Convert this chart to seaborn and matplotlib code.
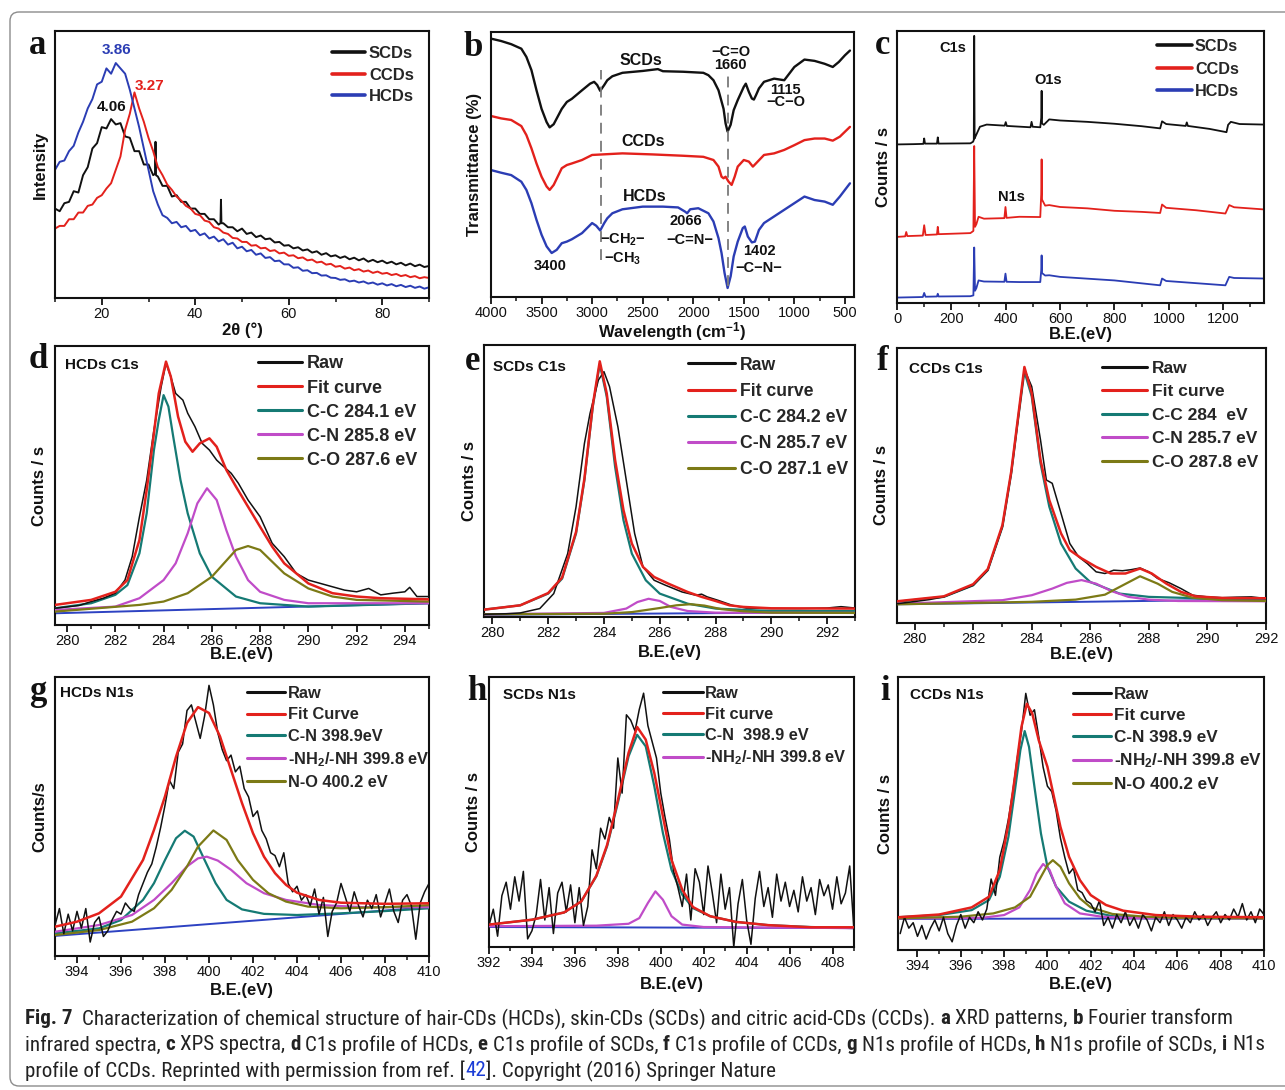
"""
Fig. 7 replica: XRD, FTIR, XPS survey and high-resolution C1s / N1s fits
for hair-, skin- and citric-acid carbon dots.
"""

import matplotlib
matplotlib.use('Agg')
import matplotlib.pyplot as plt
import matplotlib.font_manager as fm
import seaborn as sns
from matplotlib.ticker import MultipleLocator
from matplotlib.patches import FancyBboxPatch
from matplotlib.transforms import IdentityTransform
from matplotlib.font_manager import FontProperties

sns.set_theme(style='ticks')
plt.rcParams['font.family'] = ['Liberation Sans', 'DejaVu Sans']
plt.rcParams['mathtext.fontset'] = 'custom'
plt.rcParams['mathtext.rm'] = 'Liberation Sans:bold'
plt.rcParams['mathtext.it'] = 'Liberation Sans:bold'
plt.rcParams['mathtext.bf'] = 'Liberation Sans:bold'
plt.rcParams['mathtext.default'] = 'rm'

W, H = 1285, 1090

BLACK = '#111111'
RED = '#e3211c'
BLUE = '#2b3db4'
TEAL = '#157a74'
MAGENTA = '#c04cc8'
OLIVE = '#7c7a16'
BASE = '#2d42c2'

# ---------------- data (y in % of panel height, arbitrary units) ----------------
# a: XRD
XRD_X = [10, 11, 12, 13, 14, 15, 16, 17, 18, 19, 20, 21, 22, 23, 24, 25, 26, 27, 28, 29,
         30, 31, 32, 33, 34, 35, 36, 37, 38, 39, 40, 41, 42, 43, 44, 45, 46, 47, 48, 49,
         50, 51, 52, 53, 54, 55, 56, 57, 58, 59, 60, 61, 62, 63, 64, 65, 66, 67, 68, 69,
         70, 71, 72, 73, 74, 75, 76, 77, 78, 79, 80, 81, 82, 83, 84, 85, 86, 87, 88, 89, 90]
XRD_SCD_X = [10, 11, 12, 13, 14, 15, 16, 17, 18, 19, 20, 21, 22, 23, 24, 25, 26, 27, 28, 29,
             30, 31, 31.4, 31.5, 31.6, 32, 33, 34, 35, 36, 37, 38, 39, 40, 41, 42, 43, 44, 45,
             45.4, 45.5, 45.6, 46, 47, 48, 49, 50, 51, 52, 53, 54, 55, 56, 57, 58, 59, 60, 61,
             62, 63, 64, 65, 66, 67, 68, 69, 70, 71, 72, 73, 74, 75, 76, 77, 78, 79, 80, 81, 82,
             83, 84, 85, 86, 87, 88, 89, 90]
XRD_SCD = [33.5, 32.5, 35.5, 36, 40, 39.5, 46, 49, 56, 58, 64, 63.5, 67, 65, 65.5, 60.5, 60, 55,
           55, 50, 50, 46, 46.5, 58.5, 46, 45.5, 42, 42, 38, 38.5, 36, 36, 33.5, 33.5, 31.5, 31.5,
           29.5, 29.5, 27.5, 28, 36.8, 28, 28, 26.5, 26.5, 25, 26, 24, 24.5, 22.8, 23.4, 22, 22.3,
           20.8, 21, 19.6, 19.8, 18.6, 19, 17.8, 18.2, 17, 17.5, 16.2, 16.8, 15.6, 16, 15, 15.6,
           14.5, 15.1, 14.1, 14.8, 13.6, 14.3, 13.4, 14, 13, 13.6, 12.6, 13.2, 12.2, 12.9, 11.9,
           12.5, 11.6, 12]
XRD_CCD = [26, 27, 27, 29.5, 29.5, 32, 32, 34.5, 35, 37.5, 38.5, 41, 43, 48, 53, 63, 69, 77, 71,
           66, 60, 55, 49, 46, 42.5, 40.5, 38, 36.5, 34.5, 33.5, 31.5, 31, 29, 28.5, 26.5, 26, 24.5,
           24, 22.5, 22.3, 21, 21, 19.6, 19.8, 18.6, 18.8, 17.6, 17.9, 16.7, 17, 15.8, 16, 14.9,
           15.2, 14.1, 14.4, 13.3, 13.6, 12.5, 12.8, 11.7, 12, 11, 11.4, 10.4, 10.8, 9.9, 10.3, 9.4,
           9.9, 9.1, 9.4, 8.6, 9, 8.2, 8.6, 7.8, 8.2, 7.4, 7.8, 7.5]
XRD_HCD = [48, 51, 51.5, 55, 57, 62, 66, 71, 74.5, 80, 81, 86, 84, 88, 86, 84, 78, 71, 64, 56, 48,
           40, 35, 31, 30, 28, 28.5, 26.5, 27, 25, 25.5, 23.5, 24.2, 22.3, 23, 21.2, 22, 20, 20.7,
           18.6, 19.2, 17.5, 18, 16.2, 16.7, 15, 15.3, 13.8, 14, 12.6, 12.6, 11.3, 11.5, 10.2, 10.4,
           9.3, 9.4, 8.4, 8.5, 7.6, 7.5, 6.8, 7, 6.2, 6.5, 5.8, 6.2, 5.4, 5.8, 5, 5.5, 4.7, 5.2,
           4.4, 4.9, 4.1, 4.6, 3.8, 4.3, 3.5, 4]
XRD_NOTES = [("3.86", 23.2, 92.9, BLUE), ("3.27", 30.3, 79.4, RED), ("4.06", 22.1, 71.7, BLACK)]

# b: FTIR
FTIR_SCD_X = [4000, 3900, 3800, 3700, 3650, 3600, 3550, 3500, 3450, 3420, 3380, 3300, 3250, 3200,
              3100, 3020, 2980, 2950, 2920, 2880, 2850, 2800, 2700, 2500, 2350, 2300, 2100, 1900,
              1850, 1800, 1750, 1700, 1680, 1660, 1630, 1600, 1560, 1500, 1480, 1450, 1420, 1400,
              1380, 1350, 1300, 1200, 1100, 1050, 1000, 900, 800, 700, 620, 560, 500, 450]
FTIR_SCD = [97.5, 96.6, 95.4, 93.7, 90.6, 85.6, 78, 71, 66, 64, 65.2, 71, 73.6, 74.8, 78, 80.5,
            81.2, 80, 77.8, 80, 81.8, 83.3, 84.6, 85.3, 86, 85.2, 85, 84.6, 83.7, 81.8, 78, 71,
            65.5, 62.4, 65, 70.5, 74.3, 79.3, 80.5, 77.4, 74.9, 74.5, 76.1, 78.7, 81.2, 82.4, 81.8,
            84.3, 86.8, 89.6, 89.1, 88, 86.8, 88.7, 91.2, 93]
FTIR_CCD_X = [4000, 3900, 3800, 3700, 3650, 3600, 3550, 3500, 3450, 3420, 3380, 3300, 3250, 3200,
              3100, 3000, 2900, 2700, 2400, 2100, 1900, 1800, 1750, 1720, 1700, 1680, 1650, 1620,
              1590, 1560, 1500, 1450, 1410, 1380, 1300, 1200, 1100, 1000, 900, 800, 700, 620, 550, 450]
FTIR_CCD = [68.3, 67.4, 66.8, 64.5, 61.1, 56.1, 50.4, 45.4, 41.7, 40.4, 42.3, 48.6, 49.8, 50.4,
            51.7, 53.6, 53.8, 54.2, 53.8, 53.3, 52.9, 51.7, 49.2, 45.4, 44.8, 45.4, 43.5, 42.3,
            45.4, 49.2, 51.7, 51.1, 49.2, 50.4, 53.6, 54.2, 55.5, 57.3, 59.2, 59.8, 59.8, 59, 60.5, 64.2]
FTIR_HCD_X = [4000, 3900, 3800, 3700, 3650, 3600, 3550, 3500, 3450, 3400, 3350, 3300, 3250, 3200,
              3100, 3000, 2960, 2920, 2880, 2850, 2800, 2700, 2500, 2300, 2150, 2080, 2060, 2030,
              1950, 1850, 1800, 1750, 1720, 1690, 1660, 1630, 1600, 1560, 1510, 1490, 1460, 1420,
              1390, 1350, 1300, 1200, 1100, 1000, 900, 800, 700, 620, 550, 450]
FTIR_HCD = [47.9, 46.9, 46, 43.5, 40.4, 35.4, 29.1, 23.5, 19.1, 16.6, 17.8, 20.3, 20.9, 21.8, 24.1,
            27.9, 26.9, 25.1, 27.9, 29.7, 31.6, 33.1, 34.1, 34.1, 33.8, 32.2, 31.6, 33.1, 33.5, 31.6,
            28.5, 22.2, 16.6, 9, 3.4, 7.8, 15.3, 20.9, 26, 26.6, 22.8, 20.6, 20.9, 25.3, 27.9, 30.4,
            32.9, 35.4, 37.9, 36.6, 36, 34.8, 37.9, 42.9]
FTIR_GUIDE_X = [2914, 1660]
FTIR_GUIDE_TOP = [85.8, 84.3]
FTIR_GUIDE_BOTTOM = [14, 4]
FTIR_NOTES = [("SCDs", 2514, 89.3, 11.5), ("\u2212C=O", 1628, 92.5, 10.5), ("1660", 1628, 87.5, 10.5),
              ("1115", 1087, 78, 10.5), ("\u2212C\u2212O", 1087, 73.6, 10.5),
              ("CCDs", 2497, 58.6, 11.5), ("HCDs", 2481, 38.1, 11.5), ("2066", 2071, 28.5, 10.5),
              ("\u2212C=N\u2212", 2038, 21.6, 10.5), (r"$-$CH$_2$$-$", 2694, 21.6, 10.5),
              (r"$-$CH$_3$", 2694, 14.3, 10.5), ("3400", 3416, 11.8, 10.5),
              ("1402", 1349, 17.2, 10.5), ("\u2212C\u2212N\u2212", 1349, 10.9, 10.5)]

# c: XPS survey
XPS_SCD_X = [0, 60, 97, 100, 103, 147, 150, 153, 270, 280, 282.5, 284, 285.5, 290, 305, 330, 396,
             400, 404, 491, 495, 499, 527, 530.5, 532, 533.5, 540, 560, 600, 700, 800, 900, 968,
             975, 990, 1062, 1066, 1070, 1150, 1212, 1218, 1228, 1260, 1350]
XPS_SCD = [58.3, 58.4, 58.5, 60.5, 58.6, 58.6, 60.9, 58.6, 58.7, 59.3, 60, 98.2, 60.5, 61.5, 64.8,
           65.6, 65.2, 66.5, 65.1, 64.6, 66.6, 64.8, 64.6, 68, 78, 66, 65.5, 67.5, 67.1, 66.6, 65.9,
           65.0, 64.2, 66.8, 65.8, 65.1, 66.4, 65.1, 64.0, 62.8, 65.5, 66.6, 65.8, 65.6]
XPS_CCD_X = [0, 30, 34, 38, 95, 100, 105, 147, 150, 153, 270, 281, 284, 287, 292, 300, 320, 395,
             399, 403, 450, 527, 530.5, 532, 533.5, 545, 560, 600, 700, 800, 900, 968, 975, 990,
             1100, 1208, 1222, 1240, 1350]
XPS_CCD = [24.3, 24.5, 26.1, 24.6, 24.8, 28.6, 25, 25.2, 28, 25.3, 25.7, 26.5, 57.7, 28, 29, 31.7,
           31, 31.2, 35.3, 31.3, 31.7, 31.6, 40, 52.8, 38, 35.8, 36, 35.3, 34.8, 33.9, 33.5, 33.1,
           36.2, 35, 34.1, 32.9, 36, 35.2, 34.4]
XPS_HCD_X = [0, 95, 100, 105, 147, 150, 153, 270, 281, 284, 287, 292, 300, 320, 395, 399, 403, 450,
             527, 530.5, 532, 533.5, 545, 560, 600, 800, 968, 975, 990, 1208, 1222, 1240, 1350]
XPS_HCD = [2, 2.2, 3.7, 2.3, 2.4, 3.4, 2.4, 2.5, 2.8, 20.4, 4.5, 5.5, 8.3, 7.9, 7.8, 10.8, 7.8, 7.7,
           7.7, 12, 17.5, 11, 10.1, 10.2, 9.6, 8.3, 6.5, 9, 8.1, 6.5, 9.6, 9.2, 9]
XPS_NOTES = [("C1s", 206, 93.6), ("O1s", 556, 82), ("N1s", 421, 39)]

# d: HCDs C1s
D_RAW_X = [279.5, 280.5, 281, 281.5, 282, 282.4, 282.7, 283, 283.3, 283.6, 283.9, 284.1, 284.3,
           284.5, 284.8, 285, 285.3, 285.6, 285.9, 286.2, 286.5, 286.8, 287.1, 287.5, 288, 288.5,
           289, 289.5, 290, 290.5, 291, 291.5, 292, 292.5, 293, 293.5, 294, 294.2, 294.5, 295]
D_RAW = [6, 7, 8.4, 9.6, 11.4, 16.1, 24.5, 38.8, 51.9, 69.9, 85.4, 93.8, 89, 83, 80.6, 75.9, 71.1,
         65.1, 62.7, 59.1, 56.7, 54.4, 50.8, 44.8, 38.8, 29.3, 24.5, 18.5, 16.1, 14.9, 13.7, 12.5,
         11.9, 13.1, 10.8, 11.4, 11.9, 13.5, 10.2, 10.2]
D_FIT_X = [279.5, 281, 282, 282.5, 283, 283.3, 283.6, 283.8, 284.1, 284.3, 284.6, 284.9, 285.2,
           285.5, 285.9, 286.2, 286.6, 287, 287.5, 288, 288.5, 289, 290, 291, 292, 293, 295]
D_FIT = [7.2, 9, 11.9, 16.1, 30.5, 48.4, 68.7, 83, 94.4, 89, 74.7, 65.7, 62.1, 65.1, 66.9, 63.9,
         55.6, 49.6, 42.4, 35.2, 28.1, 22.1, 14.9, 11.4, 10.2, 9.6, 9.2]
D_CC_X = [279.5, 281, 282, 282.5, 283, 283.3, 283.6, 283.8, 284.0, 284.2, 284.4, 284.7, 285, 285.5,
          286, 287, 288, 290, 295]
D_CC = [6, 7.8, 10.8, 14.3, 25.7, 40, 62.7, 73.5, 82.4, 78.3, 67.5, 52, 40, 25.7, 17.3, 10.2, 7.8, 6.6, 7.8]
D_CN_X = [279.5, 282, 283, 284, 284.5, 285, 285.4, 285.8, 286.2, 286.6, 287, 287.5, 288, 289, 290, 295]
D_CN = [5.4, 6.6, 9.6, 16.1, 22.1, 32.9, 43.6, 49, 44.8, 34, 24.5, 16.1, 11.9, 9, 7.8, 7.8]
D_CO_X = [279.5, 283, 284, 285, 286, 286.5, 287, 287.5, 288, 288.5, 289, 290, 291, 292, 295]
D_CO = [4.8, 7.2, 8.4, 11.4, 17.3, 22.1, 26.9, 28.3, 26.9, 22.7, 18.5, 13.1, 10.2, 9, 8.4]
D_BASE_X = [279.5, 295]
D_BASE = [4.2, 7.8]

# e: SCDs C1s
E_RAW_X = [279.7, 280.5, 281, 281.7, 282.2, 282.7, 283, 283.3, 283.5, 283.8, 284, 284.2, 284.5,
           284.8, 285.1, 285.4, 285.8, 286.2, 286.8, 287.3, 287.5, 287.7, 288.1, 288.6, 289.1, 290,
           291, 292, 292.5, 293]
E_RAW = [1, 1.2, 1.5, 3.1, 8.6, 23.3, 40.5, 63.8, 74.8, 87.1, 90.2, 84.7, 69.9, 50.3, 30.7, 18.4,
         13.5, 11.7, 9.2, 8, 8.4, 7.4, 6.1, 4.3, 3.3, 3.1, 3.1, 3.3, 3.8, 3.3]
E_FIT_X = [279.7, 281, 282, 282.5, 283, 283.3, 283.6, 283.85, 284.1, 284.4, 284.7, 285, 285.4,
           285.8, 286.3, 287, 287.5, 288, 288.5, 289, 290, 293]
E_FIT = [2.7, 4.3, 8.8, 14.5, 31.3, 50.9, 77.9, 94, 82.2, 57.7, 39.3, 27, 18.4, 14.7, 12.3, 9.2,
         7.4, 5.9, 4.3, 3.7, 3.2, 3.1]
E_CC_X = [279.7, 281, 282, 282.5, 283, 283.3, 283.6, 283.85, 284.1, 284.4, 284.7, 285, 285.5, 286,
          287, 288, 290, 293]
E_CC = [2.7, 4.3, 8.6, 14.1, 30.7, 50.3, 77.3, 93, 81, 55.2, 35.6, 23.3, 13.5, 8.6, 4.9, 3.1, 2.2, 2.2]
E_CN_X = [279.7, 284, 284.8, 285.2, 285.6, 286, 286.4, 287, 288, 293]
E_CN = [1, 1.5, 3.1, 5.5, 6.7, 5.9, 3.7, 2.2, 1.6, 1.5]
E_CO_X = [279.7, 284, 285, 286, 286.6, 287.1, 287.6, 288.2, 289, 290, 293]
E_CO = [1, 1.2, 1.8, 3.3, 4.3, 4.7, 4.2, 2.9, 2.1, 1.6, 1.5]
E_BASE_X = [279.7, 293]
E_BASE = [0.8, 1.8]

# f: CCDs C1s
F_RAW_X = [279.4, 280, 280.5, 281, 282, 282.5, 283, 283.3, 283.5, 283.75, 284, 284.3, 284.5, 284.7,
           285, 285.3, 285.6, 285.9, 286.2, 286.5, 286.8, 287.1, 287.4, 287.7, 288, 288.3, 288.7,
           289.1, 289.5, 290, 290.5, 291, 291.5, 292]
F_RAW = [7, 7.8, 8.5, 9.5, 13.7, 19.2, 35, 54.4, 71.2, 92.3, 86, 66.6, 52, 50.8, 39.9, 28.9, 24.1,
         21.6, 18.6, 18, 19.2, 19, 19.4, 20, 18.6, 16.2, 14.6, 12.5, 10.1, 9.5, 9.2, 9.4, 9.5, 8.9]
F_FIT_X = [279.4, 281, 282, 282.5, 283, 283.3, 283.5, 283.75, 284, 284.3, 284.6, 285, 285.3, 285.7,
           286.2, 286.7, 287.2, 287.7, 288.1, 288.6, 289.1, 289.6, 290.5, 292]
F_FIT = [7.9, 9.7, 14.1, 19.6, 35.6, 55, 72, 93.1, 83.6, 59.3, 44.7, 32.6, 26.5, 23.5, 20.4, 18, 18,
         19.8, 18, 14.3, 11.3, 9.7, 9.1, 9]
F_CC_X = [279.4, 281, 282, 282.5, 283, 283.3, 283.5, 283.75, 284, 284.3, 284.6, 285, 285.5, 286,
          287, 288, 290, 292]
F_CC = [7.7, 9.5, 13.7, 19.2, 35, 54.4, 71.4, 91.5, 82.4, 58.1, 42.3, 28.9, 19.8, 14.9, 10.7, 9.5, 8.9, 8.9]
F_CN_X = [279.4, 283, 284, 284.7, 285.2, 285.7, 286.2, 286.7, 287.3, 288, 289, 292]
F_CN = [7, 8.3, 10.1, 12.5, 14.6, 15.6, 14.3, 11.7, 9.5, 8.5, 8, 7.9]
F_CO_X = [279.4, 284, 285.5, 286.5, 287, 287.7, 288.3, 288.8, 289.5, 290.5, 292]
F_CO = [6.8, 7.7, 8.5, 10.3, 13.1, 17, 14.3, 11.3, 9.2, 8.3, 8]
F_BASE_X = [279.4, 292]
F_BASE = [6.8, 8.6]

# g: HCDs N1s
G_RAW_X = [393.0, 393.2, 393.4, 393.6, 393.8, 394.0, 394.2, 394.4, 394.6, 394.8, 395.0, 395.2,
           395.4, 395.6, 395.8, 396.0, 396.2, 396.4, 396.6, 396.8, 397.0, 397.2, 397.4, 397.6,
           397.8, 398.0, 398.2, 398.4, 398.6, 398.8, 399.0, 399.2, 399.4, 399.6, 399.8, 400.0,
           400.2, 400.4, 400.6, 400.8, 401.0, 401.2, 401.4, 401.6, 401.8, 402.0, 402.2, 402.4,
           402.6, 402.8, 403.0, 403.2, 403.4, 403.6, 403.8, 404.0, 404.2, 404.4, 404.6, 404.8,
           405.0, 405.2, 405.4, 405.6, 405.8, 406.0, 406.2, 406.4, 406.6, 406.8, 407.0, 407.2,
           407.4, 407.6, 407.8, 408.0, 408.2, 408.4, 408.6, 408.8, 409.0, 409.2, 409.4, 409.6,
           409.8, 410.0]
G_RAW = [11, 17, 8, 15, 9, 16, 10, 17, 5, 12, 14, 7, 9, 13, 16, 15, 19, 17, 16, 22, 26, 30, 33, 39,
         46, 54, 63, 60, 73, 76, 88, 90, 84, 78, 86, 97, 90, 80, 74, 70, 72, 66, 68, 60, 57, 50, 52,
         45, 42, 37, 36, 32, 37, 26, 23, 25, 20, 22, 18, 24, 15, 21, 7, 16, 19, 26, 21, 16, 23, 18,
         14, 20, 17, 22, 14, 19, 24, 16, 12, 20, 22, 18, 6, 19, 23, 26]
G_FIT_X = [393, 394, 395, 396, 397, 397.5, 398, 398.5, 399, 399.5, 400, 400.5, 401, 401.5, 402,
           402.5, 403, 403.5, 404, 405, 406, 408, 410]
G_FIT = [10.5, 12.3, 15.3, 21.3, 34.4, 45.2, 57.2, 71.4, 83.5, 89.2, 87.1, 78.7, 66.7, 54.8, 44,
         35.6, 29.7, 25.5, 22.7, 20.1, 19.1, 18.7, 18.9]
G_CN_X = [393, 395, 396, 397, 397.5, 398, 398.5, 398.9, 399.3, 399.8, 400.3, 400.8, 401.5, 402.5,
          404, 406, 408, 410]
G_CN = [8.1, 9.9, 12.9, 20.1, 26.1, 34.4, 42.2, 44.9, 42.8, 34.4, 26.1, 20.1, 16.7, 15.1, 14.7, 15.3, 16.1, 17.1]
G_NH_X = [393, 395, 396.5, 397.5, 398.3, 399, 399.5, 399.9, 400.4, 401, 401.7, 402.5, 403.5, 405, 407, 410]
G_NH = [8.7, 11.1, 14.7, 20.1, 26.1, 32.1, 35, 35.6, 34.2, 30.9, 26.1, 22.5, 20.1, 18.3, 17.5, 17.5]
G_NO_X = [393, 395, 396.5, 397.5, 398.3, 399, 399.5, 400.2, 400.8, 401.3, 402, 402.7, 403.5, 404.5,
          406, 408, 410]
G_NO = [7.5, 9.3, 12.3, 17.1, 23.7, 32.1, 39.2, 45, 41.6, 34.4, 27.3, 22.5, 19.5, 17.7, 17.1, 17.5, 18.2]
G_BASE_X = [393, 410]
G_BASE = [7.2, 17.5]

# h: SCDs N1s
H_RAW_X = [392.0, 392.2, 392.4, 392.6, 392.8, 393.0, 393.2, 393.4, 393.6, 393.8, 394.0, 394.2,
           394.4, 394.6, 394.8, 395.0, 395.2, 395.4, 395.6, 395.8, 396.0, 396.2, 396.4, 396.6,
           396.8, 397.0, 397.2, 397.4, 397.6, 397.8, 398.0, 398.2, 398.4, 398.6, 398.8, 399.0,
           399.2, 399.4, 399.6, 399.8, 400.0, 400.2, 400.4, 400.6, 400.8, 401.0, 401.2, 401.4,
           401.6, 401.8, 402.0, 402.2, 402.4, 402.6, 402.8, 403.0, 403.2, 403.4, 403.6, 403.8,
           404.0, 404.2, 404.4, 404.6, 404.8, 405.0, 405.2, 405.4, 405.6, 405.8, 406.0, 406.2,
           406.4, 406.6, 406.8, 407.0, 407.2, 407.4, 407.6, 407.8, 408.0, 408.2, 408.4, 408.6,
           408.8, 409.0]
H_RAW = [8, 14, 4, 19, 24, 14, 26, 17, 28, 3, 6, 12, 25, 10, 22, 5, 20, 24, 13, 23, 9, 22, 8, 15,
         36, 29, 44, 40, 48, 44, 70, 57, 86, 84, 80, 88, 94, 82, 76, 70, 57, 48, 40, 28, 22, 15, 27,
         10, 29, 24, 12, 30, 20, 9, 27, 14, 22, 0, 16, 25, 10, 1, 18, 28, 15, 22, 11, 27, 17, 24,
         15, 21, 13, 26, 17, 22, 12, 25, 19, 23, 14, 26, 16, 20, 30, 6]
H_FIT_X = [392, 394, 395.5, 396.3, 397, 397.5, 398, 398.5, 398.9, 399.3, 399.7, 400.1, 400.5, 401,
           401.5, 402.3, 403.5, 405, 407, 409]
H_FIT = [8.3, 10.1, 12.8, 16.9, 26.4, 37.8, 54.3, 71.9, 81.5, 76.8, 64.4, 48.4, 32.3, 21.2, 14.8,
         11.4, 9.3, 8.1, 7.3, 7.3]
H_CN_X = [392, 394, 395.5, 396.3, 397, 397.5, 398, 398.5, 398.9, 399.3, 399.7, 400.1, 400.5, 401,
          401.5, 402.3, 403.5, 405, 407, 409]
H_CN = [8.3, 10.1, 12.8, 16.9, 26.2, 37.3, 53.3, 70.6, 78.6, 74.3, 59.5, 42.2, 28.6, 19.4, 14.4,
        11.4, 9.3, 8.1, 7.4, 7]
H_NH_X = [392, 397, 398.5, 399, 399.4, 399.75, 400.1, 400.5, 401, 402, 409]
H_NH = [7.7, 7.9, 8.6, 10.7, 16.3, 20.6, 17.5, 11.4, 8.3, 7.4, 7]
H_BASE_X = [392, 409]
H_BASE = [7.4, 7.0]

# i: CCDs N1s
I_RAW_X = [393.2, 393.4, 393.6, 393.8, 394.0, 394.2, 394.4, 394.6, 394.8, 395.0, 395.2, 395.4,
           395.6, 395.8, 396.0, 396.2, 396.4, 396.6, 396.8, 397.0, 397.2, 397.4, 397.6, 397.8,
           398.0, 398.2, 398.4, 398.6, 398.8, 399.0, 399.2, 399.4, 399.6, 399.8, 400.0, 400.2,
           400.4, 400.6, 400.8, 401.0, 401.2, 401.4, 401.6, 401.8, 402.0, 402.2, 402.4, 402.6,
           402.8, 403.0, 403.2, 403.4, 403.6, 403.8, 404.0, 404.2, 404.4, 404.6, 404.8, 405.0,
           405.2, 405.4, 405.6, 405.8, 406.0, 406.2, 406.4, 406.6, 406.8, 407.0, 407.2, 407.4,
           407.6, 407.8, 408.0, 408.2, 408.4, 408.6, 408.8, 409.0, 409.2, 409.4, 409.6, 409.8, 410.0]
I_RAW = [6, 12, 8, 10, 5, 9, 4, 8, 11, 7, 12, 6, 3, 9, 13, 8, 12, 10, 14, 11, 15, 26, 20, 34, 40,
         48, 58, 70, 80, 94, 86, 88, 78, 67, 60, 58, 51, 41, 34, 28, 30, 22, 21, 18, 17, 14, 18, 9,
         12, 8, 13, 10, 14, 9, 12, 8, 13, 11, 7, 12, 10, 14, 9, 13, 11, 8, 12, 10, 14, 11, 13, 9,
         12, 14, 10, 13, 11, 15, 12, 17, 11, 14, 10, 15, 13]
I_FIT_X = [393.1, 395, 396.5, 397.3, 397.8, 398.2, 398.5, 398.8, 399.05, 399.3, 399.6, 400, 400.3,
           400.6, 401, 401.5, 402, 402.7, 403.5, 405, 407, 410]
I_FIT = [12, 13, 15.6, 19.5, 29.3, 46.3, 63.4, 81.7, 90.2, 86.6, 76.8, 67.1, 56.1, 45.1, 34.1,
         25.6, 20.1, 16.5, 14.4, 12.8, 12.2, 12]
I_CN_X = [393.1, 395, 396.5, 397.3, 397.8, 398.2, 398.5, 398.75, 398.95, 399.15, 399.4, 399.7, 400,
          400.4, 401, 401.8, 403, 405, 410]
I_CN = [12, 12.8, 14.6, 18.3, 26.8, 41.5, 58.5, 73.2, 80.2, 74.4, 59.8, 42.7, 30.5, 23.2, 17.7,
        14.4, 12.4, 11.6, 11.6]
I_NH_X = [393.1, 397, 398, 398.7, 399.2, 399.5, 399.8, 400.1, 400.4, 400.8, 401.5, 402.5, 404, 410]
I_NH = [11.6, 11.8, 12.8, 15.6, 22, 28, 31.5, 29.3, 23.2, 17.1, 13.4, 12.2, 11.7, 11.6]
I_NO_X = [393.1, 396, 397.5, 398.5, 399.2, 399.7, 400, 400.25, 400.6, 401, 401.5, 402, 403, 404.5, 406, 410]
I_NO = [11.6, 12.2, 13.4, 15.6, 19.5, 26.8, 31.1, 32.9, 30.5, 24.4, 18.9, 15.6, 13.2, 12.2, 11.8, 11.6]
I_BASE_X = [393.1, 410]
I_BASE = [11.4, 11.6]

CAPTION = [
    [("Fig. 7", True, None),
     ("  Characterization of chemical structure of hair-CDs (HCDs), skin-CDs (SCDs) and citric acid-CDs (CCDs). ", False, None),
     ("a", True, None), (" XRD patterns, ", False, None), ("b", True, None), (" Fourier transform", False, None)],
    [("infrared spectra, ", False, None), ("c", True, None), (" XPS spectra, ", False, None),
     ("d", True, None), (" C1s profile of HCDs, ", False, None), ("e", True, None),
     (" C1s profile of SCDs, ", False, None), ("f", True, None), (" C1s profile of CCDs, ", False, None),
     ("g", True, None), (" N1s profile of HCDs, ", False, None), ("h", True, None),
     (" N1s profile of SCDs, ", False, None), ("i", True, None), (" N1s", False, None)],
    [("profile of CCDs. Reprinted with permission from ref. [", False, None), ("42", False, '#1a3cd6'),
     ("]. Copyright (2016) Springer Nature", False, None)],
]

# ---------------- helpers ----------------
fig = plt.figure(figsize=(W / 100, H / 100), dpi=100)


def add_panel(left, top, right, bottom):
    return fig.add_axes([left / W, 1 - bottom / H, (right - left) / W, (bottom - top) / H])


def style_axes(ax, xlim, major, minor):
    ax.set_xlim(*xlim)
    ax.set_ylim(0, 100)
    ax.xaxis.set_major_locator(MultipleLocator(major))
    ax.xaxis.set_minor_locator(MultipleLocator(minor))
    ax.tick_params(axis='x', which='major', direction='out', length=5, width=1.3,
                   labelsize=10.5, pad=1.5, colors=BLACK)
    ax.tick_params(axis='x', which='minor', direction='out', length=3, width=1.1, colors=BLACK)
    ax.tick_params(axis='y', which='both', left=False, labelleft=False)
    for sp in ax.spines.values():
        sp.set_linewidth(1.5)
        sp.set_color(BLACK)
    ax.set_xlabel('')
    ax.set_ylabel('')


def line(ax, x, y, color, lw, label=None, zorder=2):
    kw = dict(x=x, y=y, ax=ax, color=color, linewidth=lw, legend=False, sort=False,
              estimator=None, zorder=zorder)
    if label is not None:
        kw['label'] = label
    sns.lineplot(**kw)


def axis_labels(ax, xlabel, x_ypx, ylabel, y_xpx):
    bb = ax.get_position()
    fig.text((bb.x0 + bb.x1) / 2, 1 - x_ypx / H, xlabel, ha='center', va='center',
             fontsize=12, fontweight='bold', color=BLACK)
    fig.text(y_xpx / W, (bb.y0 + bb.y1) / 2, ylabel, ha='center', va='center', rotation=90,
             fontsize=12, fontweight='bold', color=BLACK)


def panel_letter(s, xpx, ypx):
    fig.text(xpx / W, 1 - ypx / H, s, ha='center', va='center', fontsize=25, fontweight='bold',
             family=['Liberation Serif', 'DejaVu Serif'], color=BLACK)


def inner_title(s, xpx, ypx):
    fig.text(xpx / W, 1 - ypx / H, s, ha='left', va='center', fontsize=11, fontweight='bold', color=BLACK)


def place_legend(ax, order, left_px, row0_px, fs, hl_px, pitch_px, pad_px, handle_lw=2.2):
    handles, labels = ax.get_legend_handles_labels()
    lookup = dict(zip(labels, handles))
    fpx = fs * 100 / 72
    leg = ax.legend([lookup[k] for k in order], order, loc='upper left',
                    bbox_to_anchor=(left_px / W, 1 - (row0_px - 0.36 * fpx) / H),
                    bbox_transform=fig.transFigure, frameon=False, borderpad=0, borderaxespad=0,
                    handlelength=hl_px / fpx, handletextpad=pad_px / fpx,
                    labelspacing=max(pitch_px / fpx - 0.93, 0.0),
                    prop={'weight': 'bold', 'size': fs})
    for ln in leg.get_lines():
        ln.set_linewidth(handle_lw)


def fit_panel(ax, raw, fit, comps, base, raw_lw=1.1):
    line(ax, base[0], base[1], BASE, 1.4, zorder=2)
    for (cx, cy, color, lab) in comps:
        line(ax, cx, cy, color, 1.6, label=lab, zorder=3)
    line(ax, raw[0], raw[1], BLACK, raw_lw, label='Raw', zorder=4)
    line(ax, fit[0], fit[1], RED, 1.8, label=fit[2], zorder=5)


# ---------------- a: XRD ----------------
ax = add_panel(55, 31, 429, 298)
line(ax, XRD_SCD_X, XRD_SCD, BLACK, 1.4, label='SCDs')
line(ax, XRD_X, XRD_CCD, RED, 1.4, label='CCDs')
line(ax, XRD_X, XRD_HCD, BLUE, 1.4, label='HCDs')
style_axes(ax, (10, 90), 20, 10)
for s, x, y, c in XRD_NOTES:
    ax.text(x, y, s, ha='center', va='center', fontsize=11, fontweight='bold', color=c)
place_legend(ax, ['SCDs', 'CCDs', 'HCDs'], 332, 52, 12, 33, 22, 4, handle_lw=2.6)
axis_labels(ax, '2\u03b8 (\u00b0)', 330, 'Intensity', 40)
panel_letter('a', 38, 45)

# ---------------- b: FTIR ----------------
ax = add_panel(491, 32, 854, 297)
line(ax, FTIR_SCD_X, FTIR_SCD, BLACK, 1.7)
line(ax, FTIR_CCD_X, FTIR_CCD, RED, 1.7)
line(ax, FTIR_HCD_X, FTIR_HCD, BLUE, 1.7)
ax.vlines(FTIR_GUIDE_X, FTIR_GUIDE_BOTTOM, FTIR_GUIDE_TOP, colors='#7a7a7a',
          linestyles=(0, (6, 4)), linewidth=1.3)
style_axes(ax, (4000, 410), 500, 250)
for s, x, y, fs in FTIR_NOTES:
    ax.text(x, y, s, ha='center', va='center', fontsize=fs, fontweight='bold', color=BLACK)
axis_labels(ax, r'Wavelength (cm$^{-1}$)', 332, 'Transmittance (%)', 475)
panel_letter('b', 473, 47)

# ---------------- c: XPS survey ----------------
ax = add_panel(897, 31, 1264, 303)
line(ax, XPS_SCD_X, XPS_SCD, BLACK, 1.3, label='SCDs')
line(ax, XPS_CCD_X, XPS_CCD, RED, 1.3, label='CCDs')
line(ax, XPS_HCD_X, XPS_HCD, BLUE, 1.3, label='HCDs')
style_axes(ax, (0, 1350), 200, 100)
for s, x, y in XPS_NOTES:
    ax.text(x, y, s, ha='center', va='center', fontsize=10.5, fontweight='bold', color=BLACK)
place_legend(ax, ['SCDs', 'CCDs', 'HCDs'], 1157, 45, 11.7, 35, 22.5, 3, handle_lw=2.6)
axis_labels(ax, 'B.E.(eV)', 335, 'Counts / s', 883)
panel_letter('c', 883, 45)

# ---------------- d: HCDs C1s ----------------
ax = add_panel(55, 346, 429, 625)
fit_panel(ax, (D_RAW_X, D_RAW), (D_FIT_X, D_FIT, 'Fit curve'),
          [(D_CC_X, D_CC, TEAL, 'C-C 284.1 eV'), (D_CN_X, D_CN, MAGENTA, 'C-N 285.8 eV'),
           (D_CO_X, D_CO, OLIVE, 'C-O 287.6 eV')], (D_BASE_X, D_BASE))
style_axes(ax, (279.5, 295), 2, 1)
place_legend(ax, ['Raw', 'Fit curve', 'C-C 284.1 eV', 'C-N 285.8 eV', 'C-O 287.6 eV'],
             258, 362, 13, 44, 23.8, 5)
inner_title('HCDs C1s', 65, 365)
axis_labels(ax, 'B.E.(eV)', 655, 'Counts / s', 40)
panel_letter('d', 38, 360)

# ---------------- e: SCDs C1s ----------------
ax = add_panel(484, 345, 855, 617)
fit_panel(ax, (E_RAW_X, E_RAW), (E_FIT_X, E_FIT, 'Fit curve'),
          [(E_CC_X, E_CC, TEAL, 'C-C 284.2 eV'), (E_CN_X, E_CN, MAGENTA, 'C-N 285.7 eV'),
           (E_CO_X, E_CO, OLIVE, 'C-O 287.1 eV')], (E_BASE_X, E_BASE))
style_axes(ax, (279.7, 293), 2, 1)
place_legend(ax, ['Raw', 'Fit curve', 'C-C 284.2 eV', 'C-N 285.7 eV', 'C-O 287.1 eV'],
             688, 363, 12.7, 47, 25.5, 5)
inner_title('SCDs C1s', 493, 367)
axis_labels(ax, 'B.E.(eV)', 653, 'Counts / s', 469)
panel_letter('e', 473, 362)

# ---------------- f: CCDs C1s ----------------
ax = add_panel(897, 348, 1266, 623)
fit_panel(ax, (F_RAW_X, F_RAW), (F_FIT_X, F_FIT, 'Fit curve'),
          [(F_CC_X, F_CC, TEAL, 'C-C 284  eV'), (F_CN_X, F_CN, MAGENTA, 'C-N 285.7 eV'),
           (F_CO_X, F_CO, OLIVE, 'C-O 287.8 eV')], (F_BASE_X, F_BASE))
style_axes(ax, (279.4, 292), 2, 1)
place_legend(ax, ['Raw', 'Fit curve', 'C-C 284  eV', 'C-N 285.7 eV', 'C-O 287.8 eV'],
             1102, 367, 12.5, 45, 24.5, 5)
inner_title('CCDs C1s', 909, 369)
axis_labels(ax, 'B.E.(eV)', 655, 'Counts / s', 882)
panel_letter('f', 883, 362)

# ---------------- g: HCDs N1s ----------------
NH_LABEL = r'-NH$_2$/-NH 399.8 eV'
ax = add_panel(55, 677, 429, 956)
fit_panel(ax, (G_RAW_X, G_RAW), (G_FIT_X, G_FIT, 'Fit Curve'),
          [(G_CN_X, G_CN, TEAL, 'C-N 398.9eV'), (G_NH_X, G_NH, MAGENTA, NH_LABEL),
           (G_NO_X, G_NO, OLIVE, 'N-O 400.2 eV')], (G_BASE_X, G_BASE))
style_axes(ax, (393, 410), 2, 1)
place_legend(ax, ['Raw', 'Fit Curve', 'C-N 398.9eV', NH_LABEL, 'N-O 400.2 eV'],
             247, 692, 11.8, 38, 21.5, 3)
inner_title('HCDs N1s', 60, 693)
axis_labels(ax, 'B.E.(eV)', 990, 'Counts/s', 40)
panel_letter('g', 38, 692)

# ---------------- h: SCDs N1s ----------------
ax = add_panel(489, 677, 854, 947)
fit_panel(ax, (H_RAW_X, H_RAW), (H_FIT_X, H_FIT, 'Fit curve'),
          [(H_CN_X, H_CN, TEAL, 'C-N  398.9 eV'), (H_NH_X, H_NH, MAGENTA, NH_LABEL)],
          (H_BASE_X, H_BASE))
style_axes(ax, (392, 409), 2, 1)
place_legend(ax, ['Raw', 'Fit curve', 'C-N  398.9 eV', NH_LABEL], 663, 692, 11.8, 40, 21, 2)
inner_title('SCDs N1s', 503, 695)
axis_labels(ax, 'B.E.(eV)', 984, 'Counts / s', 473)
panel_letter('h', 477, 692)

# ---------------- i: CCDs N1s ----------------
ax = add_panel(898, 677, 1264, 950)
fit_panel(ax, (I_RAW_X, I_RAW), (I_FIT_X, I_FIT, 'Fit curve'),
          [(I_CN_X, I_CN, TEAL, 'C-N 398.9 eV'), (I_NH_X, I_NH, MAGENTA, NH_LABEL),
           (I_NO_X, I_NO, OLIVE, 'N-O 400.2 eV')], (I_BASE_X, I_BASE))
style_axes(ax, (393.1, 410), 2, 1)
place_legend(ax, ['Raw', 'Fit curve', 'C-N 398.9 eV', NH_LABEL, 'N-O 400.2 eV'],
             1073, 693, 12.3, 38, 22.5, 3)
inner_title('CCDs N1s', 910, 695)
axis_labels(ax, 'B.E.(eV)', 985, 'Counts / s', 885)
panel_letter('i', 885, 692)

# ---------------- frame and caption ----------------
fig.add_artist(FancyBboxPatch((10, H - 1086), 1300, 1074, boxstyle='round,pad=0,rounding_size=9',
                              transform=IdentityTransform(), fill=False, edgecolor='#8c8c8c',
                              linewidth=1.0))


def condensed_faces():
    """Look for an installed condensed sans face (regular + bold); None if absent."""
    groups = {}
    for f in fm.fontManager.ttflist:
        st = str(f.stretch).lower()
        name = f.name
        if 'serif' in name.lower() and 'sans' not in name.lower():
            continue
        is_cond = st in ('condensed', 'semi-condensed', '75', '87.5') or \
            'Narrow' in name or 'Condensed' in name
        if not is_cond or f.style != 'normal':
            continue
        w = f.weight if isinstance(f.weight, int) else \
            {'normal': 400, 'regular': 400, 'book': 400, 'medium': 500, 'bold': 700}.get(str(f.weight), 400)
        groups.setdefault((name, st), {})[w] = f.fname
    prefs = ['Liberation Sans Narrow', 'Roboto Condensed', 'Open Sans Condensed', 'Noto Sans',
             'DejaVu Sans', 'Lato', 'Inter']
    ranked = sorted(groups.items(),
                    key=lambda kv: next((i for i, p in enumerate(prefs) if p in kv[0][0]), 99))
    for _, faces in ranked:
        if 400 in faces and 700 in faces:
            return faces[400], faces[700]
    return None


faces = condensed_faces()
renderer = fig.canvas.get_renderer()


def cap_prop(bold, size):
    if faces:
        return FontProperties(fname=faces[1] if bold else faces[0], size=size)
    return FontProperties(family=['Liberation Sans'], weight='bold' if bold else 'normal', size=size)


def text_width(s, bold, size):
    prop = cap_prop(bold, size)
    w1 = renderer.get_text_width_height_descent('|' + s + '|', prop, ismath=False)[0]
    w2 = renderer.get_text_width_height_descent('||', prop, ismath=False)[0]
    return w1 - w2


# size the caption so its longest (second) line spans the same width as in the reference
ref_width = sum(text_width(s, b, 10) for s, b, _ in CAPTION[1])
cap_size = 10 * 1233 / ref_width
for segs, ypx in zip(CAPTION, [1019, 1045, 1071]):
    xpx = 25
    for s, bold, color in segs:
        core = s.strip()
        xpx += text_width(s[:len(s) - len(s.lstrip())], bold, cap_size)
        fig.text(xpx / W, 1 - ypx / H, core, fontproperties=cap_prop(bold, cap_size),
                 color=color or '#222222', ha='left', va='center')
        xpx += text_width(core, bold, cap_size)
        xpx += text_width(s[len(s.rstrip()):], bold, cap_size)

fig.savefig('out.png', dpi=100, facecolor='white')
